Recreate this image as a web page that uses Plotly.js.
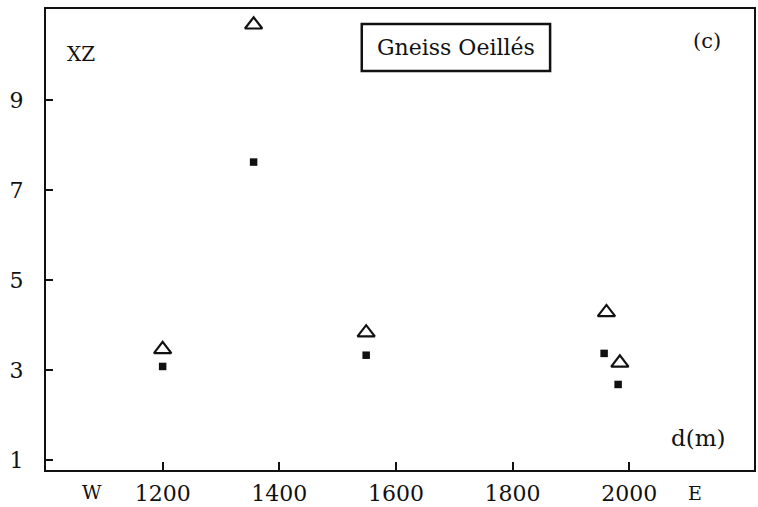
<!DOCTYPE html>
<html>
<head>
<meta charset="utf-8">
<script src="https://cdn.plot.ly/plotly-3.0.1.min.js"></script>
<style>html,body{margin:0;padding:0;background:#fff;}#chart{width:758px;height:507px;}</style>
</head>
<body>
<div id="chart"></div>
<script>
// Distance along section (m) and XZ ratio
const distTriangles = [1200, 1356, 1549, 1961, 1984];
const xzTriangles   = [3.46, 10.67, 3.83, 4.28, 3.16];
const distSquares   = [1200, 1356, 1549, 1957, 1981];
const xzSquares     = [3.08, 7.62, 3.33, 3.37, 2.68];
const xTickVals = [1200, 1400, 1600, 1800, 2000];
const yTickVals = [1, 3, 5, 7, 9];

const FONT = "DejaVu Serif";

const traces = [
  {
    x: distTriangles, y: xzTriangles, type: 'scatter', mode: 'markers',
    marker: {symbol: 'triangle-up-open', size: 15, color: '#111', line: {width: 2.2, color: '#111'}},
    showlegend: false, hoverinfo: 'x+y'
  },
  {
    x: distSquares, y: xzSquares, type: 'scatter', mode: 'markers',
    marker: {symbol: 'square', size: 7.5, color: '#111'},
    showlegend: false, hoverinfo: 'x+y'
  }
];

function note(text, x, y, size) {
  return {text: text, xref: 'paper', yref: 'paper', x: x, y: y, xanchor: 'center', yanchor: 'middle',
          showarrow: false, font: {family: FONT, size: size, color: '#111'}};
}

const layout = {
  width: 758, height: 507,
  margin: {l: 46, r: 4, t: 9, b: 37},
  paper_bgcolor: '#fff', plot_bgcolor: '#fff',
  font: {family: FONT, size: 21, color: '#111'},
  xaxis: {
    range: [1000, 2214], tickvals: xTickVals, ticktext: xTickVals.map(String),
    ticks: 'inside', ticklen: 8, tickwidth: 2, tickcolor: '#111',
    showline: true, linewidth: 2, linecolor: '#111', mirror: true,
    showgrid: false, zeroline: false, ticklabelstandoff: 3,
    tickfont: {family: FONT, size: 22, color: '#111'}
  },
  yaxis: {
    range: [0.78, 11.02], tickvals: yTickVals, ticktext: yTickVals.map(String),
    ticks: 'inside', ticklen: 7, tickwidth: 2, tickcolor: '#111',
    showline: true, linewidth: 2, linecolor: '#111', mirror: true,
    showgrid: false, zeroline: false, ticklabelstandoff: 16,
    tickfont: {family: FONT, size: 22, color: '#111'}
  },
  shapes: [
    {type: 'rect', xref: 'paper', yref: 'paper', x0: 0.446, x1: 0.712, y0: 0.8655, y1: 0.9675,
     line: {color: '#111', width: 2.5}, fillcolor: 'rgba(0,0,0,0)'}
  ],
  annotations: [
    note('Gneiss Oeillés', 0.579, 0.917, 22),
    note('XZ', 0.0494, 0.9024, 20),
    note('(c)', 0.934, 0.931, 21),
    note('d(m)', 0.921, 0.0694, 23),
    note('W', 0.065, -0.0477, 19),
    note('E', 0.917, -0.0499, 19)
  ]
};

Plotly.newPlot('chart', traces, layout, {displayModeBar: false, staticPlot: true});
</script>
</body>
</html>
